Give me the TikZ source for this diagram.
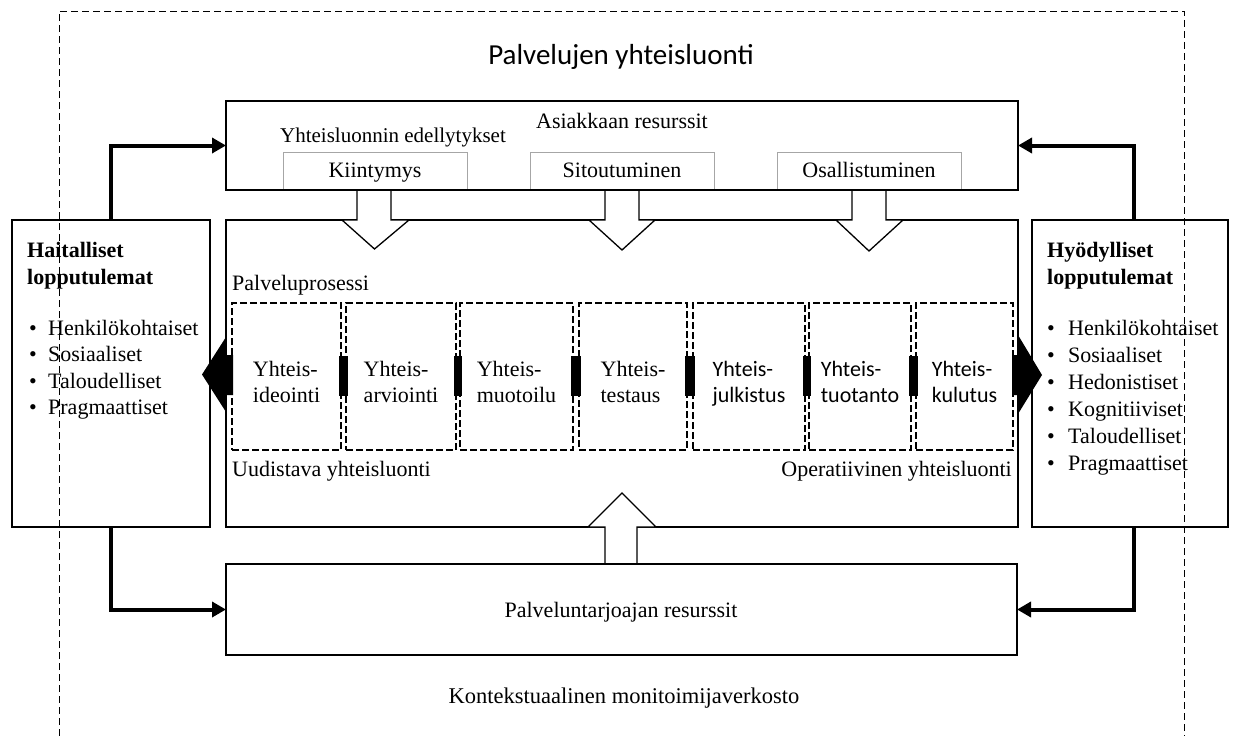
\documentclass[tikz,border=0pt]{standalone}
\usepackage{fontspec}
\setmainfont{Liberation Serif}
\newfontfamily\sansf{Carlito}
\usetikzlibrary{arrows.meta,calc}
\begin{document}
\begin{tikzpicture}[x=1pt,y=-1pt,
  txt/.style={font=\fontsize{22}{27}\selectfont, inner sep=0pt, text height=15pt, text depth=5pt},
  stxt/.style={inner sep=0pt, align=left, anchor=north},
  box/.style={draw, line width=2pt, inner sep=0pt, outer sep=0pt, anchor=north west},
  sub/.style={draw=gray!70, line width=1pt, inner sep=0pt, outer sep=0pt, anchor=north west, font=\fontsize{22}{27}\selectfont, text height=17pt, text depth=3pt},
  stagebox/.style={draw, line width=2.2pt, dash pattern=on 7pt off 3pt, inner sep=0pt, outer sep=0pt, anchor=north west},
  fat/.style={line width=4pt, line join=miter, -{Triangle[length=14pt,width=15pt]}},
  hollow/.style={fill=white, draw, line width=1.3pt, line join=miter},
  frame/.style={line width=1pt, dash pattern=on 7pt off 4pt}
]
\useasboundingbox (0,0) rectangle (1237,736);
% outer dashed frame
\draw[frame] (59,736) -- (59,11) -- (1184,11) -- (1184,736);
\node[font=\sansf\fontsize{29}{34}\selectfont, inner sep=0pt] (title) at (621,57) {Palvelujen yhteisluonti};

% middle box
\node[box, minimum width=792pt, minimum height=307pt] (mid) at (226,220) {};

% hollow block arrows
\path[hollow] (357,189) -- (357,220) -- (342,220) -- (374.5,249) -- (409,220) -- (391,220) -- (391,189);
\path[hollow] (605,189) -- (605,220) -- (589,220) -- (622,250) -- (655,220) -- (639,220) -- (639,189);
\path[hollow] (852,189) -- (852,220) -- (836,220) -- (869,251) -- (903,220) -- (886,220) -- (886,189);
\path[hollow] (605,564) -- (605,527) -- (588,527) -- (622,493) -- (656,527) -- (637,527) -- (637,564);

% top box and sub boxes
\node[sub, minimum width=184pt, minimum height=37pt] (kiin) at (283,152) {Kiintymys};
\node[sub, minimum width=184pt, minimum height=37pt] (sito) at (530,152) {Sitoutuminen};
\node[sub, minimum width=184pt, minimum height=37pt] (osal) at (777,152) {Osallistuminen};
\node[box, minimum width=792pt, minimum height=89pt] (top) at (226,101) {};
\node[txt] (asi) at (622,123) {Asiakkaan resurssit};
\node[txt, font=\fontsize{21}{25}\selectfont] (edel) at (393,137) {Yhteisluonnin edellytykset};

% bottom box
\node[box, minimum width=791pt, minimum height=91pt] (bot) at (226,564) {};
\node[txt] (botl) at (621,612) {Palveluntarjoajan resurssit};
\node[txt, font=\fontsize{22.5}{27}\selectfont] (kont) at (624,698) {Kontekstuaalinen monitoimijaverkosto};

% side boxes
\node[box, minimum width=198pt, minimum height=307pt] (hait) at (12,220) {};
\node[box, minimum width=196pt, minimum height=307pt] (hyo) at (1032,220) {};

\node[txt, font=\bfseries\fontsize{22}{27}\selectfont, anchor=west] (hh1) at (27,252) {Haitalliset};
\node[txt, font=\bfseries\fontsize{22}{27}\selectfont, anchor=west] (hh2) at (27,279) {lopputulemat};
\foreach \t [count=\i] in {Henkilökohtaiset, Sosiaaliset, Taloudelliset, Pragmaattiset}
  \node[txt, anchor=west] (hb\i) at (29,{330+26.5*(\i-1)}) {\makebox[19pt][l]{\textbullet}\t};

\node[txt, font=\bfseries\fontsize{22}{27}\selectfont, anchor=west] (yh1) at (1047,252) {Hyödylliset};
\node[txt, font=\bfseries\fontsize{22}{27}\selectfont, anchor=west] (yh2) at (1047,279) {lopputulemat};
\foreach \t [count=\i] in {Henkilökohtaiset, Sosiaaliset, Hedonistiset, Kognitiiviset, Taloudelliset, Pragmaattiset}
  \node[txt, anchor=west] (yb\i) at (1047,{330+27*(\i-1)}) {\makebox[21pt][l]{\textbullet}\t};

% process labels
\node[txt, anchor=west] (pp) at (232,285) {Palveluprosessi};
\node[txt, anchor=west] (uud) at (232,471) {Uudistava yhteisluonti};
\node[txt, anchor=east] (ope) at (1012,471) {Operatiivinen yhteisluonti};

% stage boxes
\foreach \l/\r/\a [count=\i] in {232/341/ideointi, 346/456/arviointi, 460/573/muotoilu, 579/687/testaus}{
  \node[stagebox, minimum width={(\r-\l)*1pt}, minimum height=147pt] (s\i) at (\l,303) {};
  \node[stxt, font=\fontsize{22}{26}\selectfont] (t\i) at ({(\l+\r)/2},361) {Yhteis-\\\a};
}
\foreach \l/\r/\a [count=\j from 5] in {693/805/julkistus, 809/911/tuotanto, 916/1013/kulutus}{
  \node[stxt, font=\sansf\fontsize{22}{26}\selectfont] (t\j) at ({(\l+\r)/2},361) {Yhteis-\\\a};
  \node[stagebox, minimum width={(\r-\l)*1pt}, minimum height=147pt] (s\j) at (\l,303) {};
}
% black links between stages
\foreach \i/\k in {1/2,2/3,3/4,4/5,5/6,6/7}
  \fill ($(s\i.east)+(-2,-21)$) rectangle ($(s\k.west)+(2,19)$);

% big black arrows
\fill (233,355) -- (226,355) -- (226,337) -- (202,374.5) -- (226,412) -- (226,395) -- (233,395) -- cycle;
\fill (1012,355) -- (1018,355) -- (1018,335) -- (1042,375) -- (1018,414) -- (1018,395) -- (1012,395) -- cycle;

% feedback connectors
\draw[fat] (hait.north) |- (top.west);
\draw[fat] (hait.south) |- (bot.west);
\draw[fat] ([xshift=4pt]hyo.north) |- (top.east);
\draw[fat] ([xshift=4pt]hyo.south) |- (bot.east);
\end{tikzpicture}
\end{document}
